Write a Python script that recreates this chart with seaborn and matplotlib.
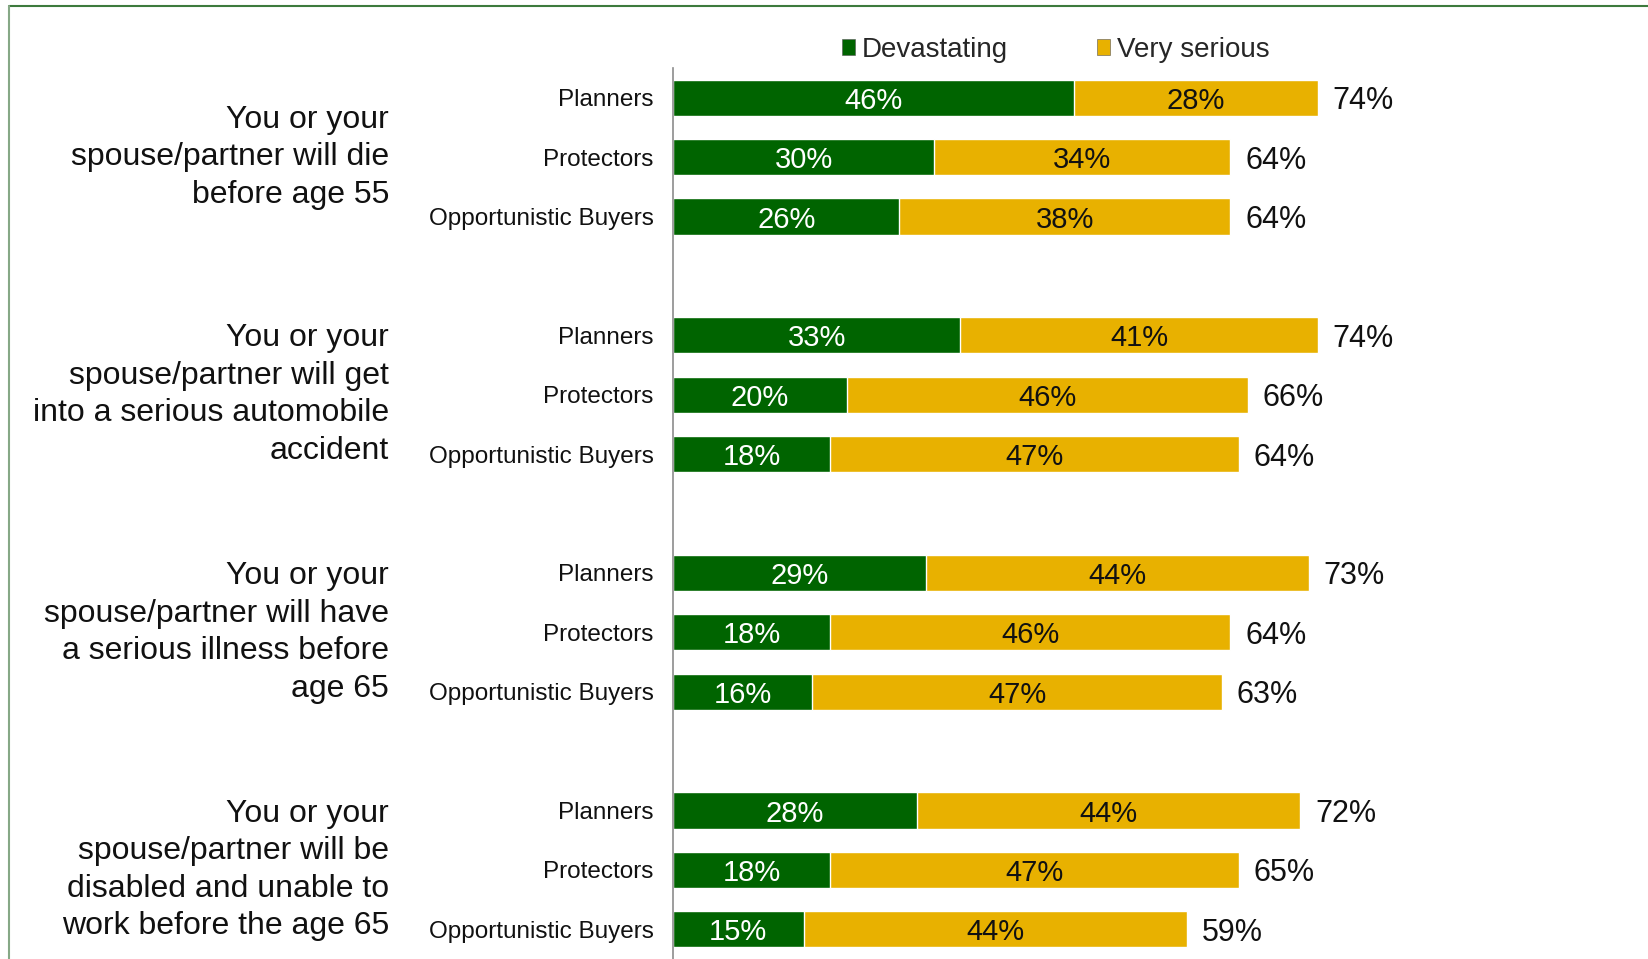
import numpy as np
import pandas as pd
import seaborn as sns
import matplotlib.pyplot as plt
from matplotlib.patches import Patch
from matplotlib.lines import Line2D
from matplotlib.transforms import blended_transform_factory

# data
questions = [
    "You or your\nspouse/partner will die\nbefore age 55",
    "You or your\nspouse/partner will get\ninto a serious automobile\naccident",
    "You or your\nspouse/partner will have\na serious illness before\nage 65",
    "You or your\nspouse/partner will be\ndisabled and unable to\nwork before the age 65",
]
segments = ["Planners", "Protectors", "Opportunistic Buyers"]
devastating = [46, 30, 26, 33, 20, 18, 29, 18, 16, 28, 18, 15]
very_serious = [28, 34, 38, 41, 46, 47, 44, 46, 47, 44, 47, 44]
total = [74, 64, 64, 74, 66, 64, 73, 64, 63, 72, 65, 59]

green = "#006400"
yellow = "#E8B100"

sns.set_style("white")
plt.rcParams["font.family"] = ["Liberation Sans", "DejaVu Sans"]

# one empty slot between the question groups
rows = []
for g in range(len(questions)):
    for s, seg in enumerate(segments):
        rows.append({"pos": g * 4 + s, "segment": seg})
df = pd.DataFrame(rows)
df["dev"] = devastating
df["vs"] = very_serious
df["stack"] = df["dev"] + df["vs"]
df["total"] = total

fig = plt.figure(figsize=(16.49, 9.59), dpi=100)
ax = fig.add_axes([673 / 1649, 0, 871 / 1649, (959 - 68) / 959])

sns.barplot(data=df, x="stack", y="pos", orient="h", native_scale=True,
            color=yellow, saturation=1, width=0.61, ax=ax)
sns.barplot(data=df, x="dev", y="pos", orient="h", native_scale=True,
            color=green, saturation=1, width=0.61, ax=ax)

for _, r in df.iterrows():
    ax.text(r["dev"] / 2, r["pos"], f"{r['dev']}%", color="white",
            ha="center", va="center_baseline", fontsize=21)
    ax.text(r["dev"] + r["vs"] / 2, r["pos"], f"{r['vs']}%", color="#111111",
            ha="center", va="center_baseline", fontsize=21)
    ax.text(r["stack"] + 1.7, r["pos"], f"{r['total']}%", color="#111111",
            ha="left", va="center_baseline", fontsize=22)

ax.set_xlim(0, 100)
ax.set_ylim(14.5, -0.5)
ax.set_yticks(df["pos"])
ax.set_yticklabels(df["segment"], fontsize=17.5, color="#111111")
ax.set_xticks([])
ax.set_xlabel("")
ax.set_ylabel("")
ax.tick_params(axis="y", length=0, pad=14)
for side in ["top", "right", "bottom"]:
    ax.spines[side].set_visible(False)
ax.spines["left"].set_color("#8c8c8c")
ax.spines["left"].set_linewidth(1.2)

# question labels on the left
tr = blended_transform_factory(fig.transFigure, ax.transData)
for g, q in enumerate(questions):
    ax.text(389 / 1649, g * 4 + 1.0, q, transform=tr, ha="right", va="center",
            fontsize=23, linespacing=1.33, color="#111111")

handles = [Patch(facecolor=green, edgecolor="#555555", linewidth=0.4, label="Devastating"),
           Patch(facecolor=yellow, edgecolor="#555555", linewidth=0.4, label="Very serious")]
fig.legend(handles=handles, loc="center", bbox_to_anchor=(1056 / 1649, 1 - 50 / 959),
           ncol=2, frameon=False, fontsize=20, handlelength=0.47, handleheight=0.47,
           handletextpad=0.25, columnspacing=3.2, borderaxespad=0)

# slide frame
fig.add_artist(Line2D([9 / 1649, 1], [1 - 6 / 959, 1 - 6 / 959], color="#3d7a3d",
                      linewidth=1.5, transform=fig.transFigure))
fig.add_artist(Line2D([9 / 1649, 9 / 1649], [0, 1 - 6 / 959], color="#86a886",
                      linewidth=1.5, transform=fig.transFigure))

fig.savefig("out.png", dpi=100)
